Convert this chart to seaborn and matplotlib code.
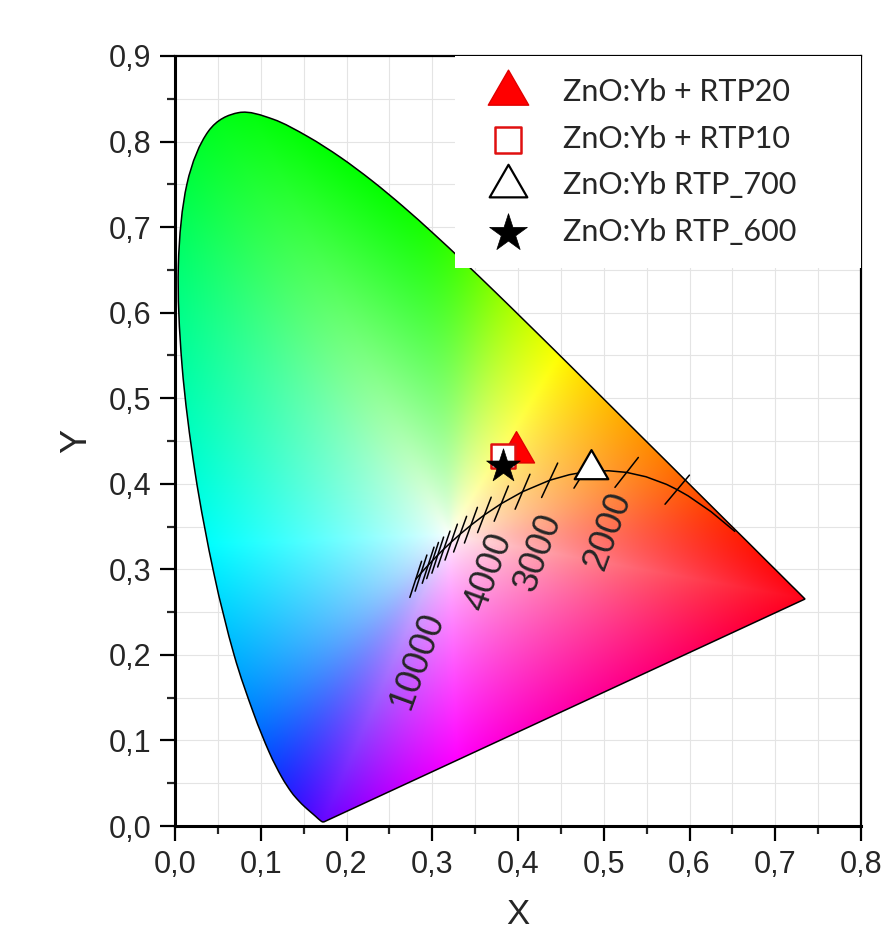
import numpy as np
import pandas as pd
import matplotlib
matplotlib.use("Agg")
import matplotlib.pyplot as plt
import seaborn as sns
from matplotlib.patches import PathPatch
from matplotlib.path import Path
from matplotlib.ticker import MultipleLocator, FuncFormatter

# ---------------- data ----------------
# CIE 1931 spectral locus (380-700 nm, 5 nm)
wavelength_nm = list(range(380, 705, 5))
locus_x = [0.1741, 0.1740, 0.1738, 0.1736, 0.1733, 0.1730, 0.1726, 0.1721, 0.1714, 0.1703,
           0.1689, 0.1669, 0.1644, 0.1611, 0.1566, 0.1510, 0.1440, 0.1355, 0.1241, 0.1096,
           0.0913, 0.0687, 0.0454, 0.0235, 0.0082, 0.0039, 0.0139, 0.0389, 0.0743, 0.1142,
           0.1547, 0.1929, 0.2296, 0.2658, 0.3016, 0.3373, 0.3731, 0.4087, 0.4441, 0.4788,
           0.5125, 0.5448, 0.5752, 0.6029, 0.6270, 0.6482, 0.6658, 0.6801, 0.6915, 0.7006,
           0.7079, 0.7140, 0.7190, 0.7230, 0.7260, 0.7283, 0.7300, 0.7311, 0.7320, 0.7327,
           0.7334, 0.7340, 0.7344, 0.7346, 0.7347]
locus_y = [0.0050, 0.0050, 0.0049, 0.0049, 0.0048, 0.0048, 0.0048, 0.0048, 0.0051, 0.0058,
           0.0069, 0.0086, 0.0109, 0.0138, 0.0177, 0.0227, 0.0297, 0.0399, 0.0578, 0.0868,
           0.1327, 0.2007, 0.2950, 0.4127, 0.5384, 0.6548, 0.7502, 0.8120, 0.8338, 0.8262,
           0.8059, 0.7816, 0.7543, 0.7243, 0.6923, 0.6589, 0.6245, 0.5896, 0.5547, 0.5202,
           0.4866, 0.4544, 0.4242, 0.3965, 0.3725, 0.3514, 0.3340, 0.3197, 0.3083, 0.2993,
           0.2920, 0.2859, 0.2809, 0.2770, 0.2740, 0.2717, 0.2700, 0.2689, 0.2680, 0.2673,
           0.2666, 0.2660, 0.2656, 0.2654, 0.2653]

# Planckian locus
planck_T = [10000, 9000, 8000, 7500, 7000, 6500, 6000, 5500, 5000, 4500, 4000, 3500, 3000,
            2700, 2500, 2400, 2200, 2000, 1800, 1600, 1500, 1400, 1200, 1000]
planck_x = [0.2807, 0.2869, 0.2952, 0.3004, 0.3064, 0.3135, 0.3221, 0.3325, 0.3451, 0.3608,
            0.3805, 0.4053, 0.4369, 0.4599, 0.4770, 0.4862, 0.5056, 0.5267, 0.5493, 0.5732,
            0.5857, 0.5985, 0.6251, 0.6528]
planck_y = [0.2883, 0.2956, 0.3048, 0.3103, 0.3166, 0.3237, 0.3318, 0.3411, 0.3516, 0.3636,
            0.3768, 0.3907, 0.4041, 0.4106, 0.4137, 0.4147, 0.4152, 0.4133, 0.4082, 0.3993,
            0.3931, 0.3858, 0.3674, 0.3444]

tick_T = [10000, 9000, 8000, 7500, 7000, 6500, 6000, 5500, 5000, 4500, 4000, 3500, 3000,
          2500, 2000, 1500]
label_T = [10000, 4000, 3000, 2000]
label_text = ["10000", "4000", "3000", "2000"]

# samples
sample_names = ["ZnO:Yb + RTP20", "ZnO:Yb + RTP10", "ZnO:Yb RTP_700", "ZnO:Yb RTP_600"]
sample_x = [0.398, 0.383, 0.485, 0.383]
sample_y = [0.437, 0.433, 0.417, 0.421]

x_ticks = [0.0, 0.1, 0.2, 0.3, 0.4, 0.5, 0.6, 0.7, 0.8]
y_ticks = [0.0, 0.1, 0.2, 0.3, 0.4, 0.5, 0.6, 0.7, 0.8, 0.9]

# ---------------- style ----------------
tick_angle_deg = [72, 72, 72, 72, 72, 71, 71, 70, 70, 69, 68, 67, 65, 58, 52, 50]
tick_half_px = 19
label_offset_px = [(2, -81), (-12, -68), (-11, -72), (-19, -59)]
white_xy = (0.32, 0.34)

sns.set_style("ticks")
plt.rcParams["font.family"] = ["Liberation Sans", "DejaVu Sans"]

W, H = 884, 930
fig = plt.figure(figsize=(W / 100, H / 100), dpi=100)
fig.patch.set_facecolor("white")
ax = fig.add_axes([175 / W, 104 / H, 686 / W, 770 / H])
ax.set_xlim(0, 0.8)
ax.set_ylim(0, 0.9)

# grid
ax.set_axisbelow(True)
ax.xaxis.set_major_locator(MultipleLocator(0.1))
ax.yaxis.set_major_locator(MultipleLocator(0.1))
ax.xaxis.set_minor_locator(MultipleLocator(0.05))
ax.yaxis.set_minor_locator(MultipleLocator(0.05))
ax.grid(which="both", color="#e4e4e4", lw=0.8)

# ---- smooth outline path (Catmull-Rom through the locus points) ----
P = np.column_stack([locus_x, locus_y])
verts = [P[0]]
codes = [Path.MOVETO]
n = len(P)
for i in range(n - 1):
    p0 = P[max(i - 1, 0)]
    p1 = P[i]
    p2 = P[i + 1]
    p3 = P[min(i + 2, n - 1)]
    c1 = p1 + (p2 - p0) / 6.0
    c2 = p2 - (p3 - p1) / 6.0
    verts += [c1, c2, p2]
    codes += [Path.CURVE4] * 3
verts += [P[0], P[0]]
codes += [Path.LINETO, Path.CLOSEPOLY]
outline = Path(np.array(verts), codes)

# ---- colour fill: fan from the white point to the saturated boundary ----
M = np.array([[3.2406, -1.5372, -0.4986],
              [-0.9689, 1.8758, 0.0415],
              [0.0557, -0.2040, 1.0570]])


def xy_to_srgb(bx, by):
    XYZ = np.stack([bx / by, np.ones_like(bx), (1 - bx - by) / by], -1)
    rgb = np.clip(XYZ @ M.T, 0, None)
    rgb = rgb / np.maximum(rgb.max(-1, keepdims=True), 1e-9)
    return np.where(rgb <= 0.0031308, 12.92 * rgb, 1.055 * np.power(rgb, 1 / 2.4) - 0.055)


fine = outline.interpolated(20).vertices
tt = np.linspace(0, 1, 120)[1:-1]
purple = np.column_stack([locus_x[-1] + (locus_x[0] - locus_x[-1]) * tt,
                          locus_y[-1] + (locus_y[0] - locus_y[-1]) * tt])
B = np.vstack([fine, purple])
bcol = xy_to_srgb(B[:, 0], B[:, 1])
bth = np.arctan2(B[:, 1] - white_xy[1], B[:, 0] - white_xy[0])
brad = np.hypot(B[:, 1] - white_xy[1], B[:, 0] - white_xy[0])
order = np.argsort(bth)
bth, brad, bcol = bth[order], brad[order], bcol[order]

# resample boundary colours on a regular angle grid and smooth them (circularly)
ang = np.linspace(-np.pi, np.pi, 1440, endpoint=False)
acol = np.stack([np.interp(ang, bth, bcol[:, k], period=2 * np.pi) for k in range(3)], -1)
sig = 30
kx = np.arange(-3 * sig, 3 * sig + 1)
ker = np.exp(-0.5 * (kx / sig) ** 2)
ker /= ker.sum()
sm = np.empty_like(acol)
for k in range(3):
    ext = np.concatenate([acol[-3 * sig:, k], acol[:, k], acol[:3 * sig, k]])
    sm[:, k] = np.convolve(ext, ker, mode="valid")
sm = sm / np.maximum(sm.max(-1, keepdims=True), 1e-9)

gx = np.linspace(0, 0.8, 800)
gy = np.linspace(0.0, 0.9, 900)
GX, GY = np.meshgrid(gx, gy)
th = np.arctan2(GY - white_xy[1], GX - white_xy[0])
rr = np.hypot(GY - white_xy[1], GX - white_xy[0])
rb = np.interp(th, bth, brad, period=2 * np.pi)
t = np.clip(rr / rb, 0, 1)[..., None] ** 0.75
edge = np.stack([np.interp(th, ang, sm[:, k], period=2 * np.pi) for k in range(3)], -1)
img = np.clip((1 - t) * 1.0 + t * edge, 0, 1)

im = ax.imshow(img, extent=(0, 0.8, 0.0, 0.9), origin="lower", aspect="auto",
               zorder=1, interpolation="bilinear")
clip_patch = PathPatch(outline, facecolor="none", edgecolor="none", transform=ax.transData)
ax.add_patch(clip_patch)
im.set_clip_path(clip_patch)
ax.add_patch(PathPatch(outline, facecolor="none", edgecolor="black", lw=1.1, zorder=3))

# Planckian locus
pl_df = pd.DataFrame({"x": planck_x, "y": planck_y})
sns.lineplot(data=pl_df, x="x", y="y", sort=False, estimator=None, color="black",
             lw=1.1, ax=ax, zorder=3)

# isotherm ticks
seg_rows = []
for k, (T, a_deg) in enumerate(zip(tick_T, tick_angle_deg)):
    i = planck_T.index(T)
    p = ax.transData.transform((planck_x[i], planck_y[i]))
    d = np.array([np.cos(np.radians(a_deg)), np.sin(np.radians(a_deg))]) * tick_half_px
    a = ax.transData.inverted().transform(p - d)
    b = ax.transData.inverted().transform(p + d)
    seg_rows.append({"x": a[0], "y": a[1], "seg": k})
    seg_rows.append({"x": b[0], "y": b[1], "seg": k})
seg_df = pd.DataFrame(seg_rows)
sns.lineplot(data=seg_df, x="x", y="y", units="seg", estimator=None, sort=False,
             color="black", lw=1.1, ax=ax, zorder=3)

for T, txt, off in zip(label_T, label_text, label_offset_px):
    i = planck_T.index(T)
    ax.annotate(txt, xy=(planck_x[i], planck_y[i]), xytext=off, textcoords="offset pixels",
                rotation=70, ha="center", va="center", rotation_mode="anchor",
                fontsize=26, zorder=4)

# samples
tri = Path([(0, 1), (-0.866, -0.5), (0.866, -0.5), (0, 1)],
           [Path.MOVETO, Path.LINETO, Path.LINETO, Path.CLOSEPOLY])
sns.scatterplot(x=[sample_x[0]], y=[sample_y[0]], marker=tri, s=900, color="#ff0000",
                edgecolor="#e00000", linewidth=1.0, label=sample_names[0], ax=ax, zorder=6)
sns.scatterplot(x=[sample_x[1]], y=[sample_y[1]], marker="s", s=290, color="white",
                edgecolor="#e01010", linewidth=1.8, label=sample_names[1], ax=ax, zorder=7)
sns.scatterplot(x=[sample_x[2]], y=[sample_y[2]], marker=tri, s=780, color="white",
                edgecolor="black", linewidth=1.6, label=sample_names[2], ax=ax, zorder=7)
sns.scatterplot(x=[sample_x[3]], y=[sample_y[3]], marker="*", s=650, color="black",
                edgecolor="black", linewidth=0.5, label=sample_names[3], ax=ax, zorder=8)

# axes styling
fmt = FuncFormatter(lambda v, p: f"{v:.1f}".replace(".", ","))
ax.set_xticks(x_ticks)
ax.set_yticks(y_ticks)
ax.xaxis.set_major_formatter(fmt)
ax.yaxis.set_major_formatter(fmt)
ax.tick_params(which="major", direction="out", length=11, width=1.6, labelsize=22,
               pad=6, top=False, right=False, color="black")
ax.tick_params(which="minor", direction="out", length=6, width=1.6, top=False, right=False)
for s in ["left", "bottom"]:
    ax.spines[s].set_linewidth(2.2)
for s in ["top", "right"]:
    ax.spines[s].set_linewidth(1.6)
for s in ax.spines.values():
    s.set_color("black")
    s.set_zorder(5)

ax.set_xlabel("X", fontsize=25)
ax.set_ylabel("Y", fontsize=26)
ax.xaxis.set_label_coords(0.5, (826 - 898) / 770)
ax.yaxis.set_label_coords((94 - 175) / 686, 0.5)

x0 = (455 - 175) / 686
leg = ax.legend(loc="upper left", bbox_to_anchor=(x0, 1.0, 1 - x0, 0), mode="expand",
                borderaxespad=0, frameon=True, fancybox=False, framealpha=1,
                facecolor="white", edgecolor="none", borderpad=0.72, labelspacing=0.61,
                handlelength=2.0, handletextpad=0.8, scatterpoints=1, markerscale=1.12,
                prop={"family": ["Lato", "DejaVu Sans"], "size": 22})
leg.set_zorder(10)

fig.savefig("out.png", dpi=100)
